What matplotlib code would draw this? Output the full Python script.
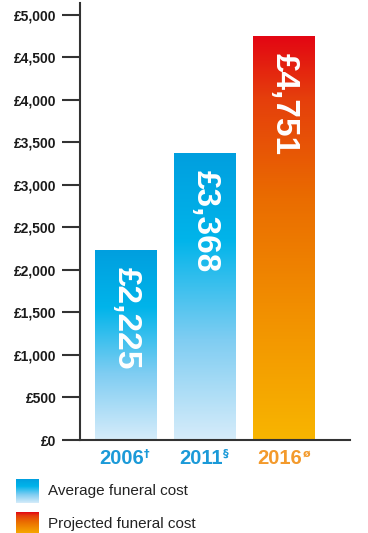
import numpy as np
import matplotlib.pyplot as plt
from matplotlib.colors import LinearSegmentedColormap
from matplotlib.transforms import blended_transform_factory

# funeral cost data
years = ['2006', '2011', '2016']
year_marks = ['†', '§', 'ø']
costs = [2225, 3368, 4751]
cost_labels = ['£2,225', '£3,368', '£4,751']
projected = [False, False, True]
yticks = [0, 500, 1000, 1500, 2000, 2500, 3000, 3500, 4000, 4500, 5000]
legend_labels = ['Average funeral cost', 'Projected funeral cost']

# gradients run bottom -> top
blue_cmap = LinearSegmentedColormap.from_list(
    'avg', [(0.0, '#d6ecfa'), (0.35, '#7fcdf2'), (0.7, '#00b4ea'), (1.0, '#009fdf')])
red_cmap = LinearSegmentedColormap.from_list(
    'proj', [(0.0, '#f8b500'), (0.3, '#f29200'), (0.6, '#ea6c00'), (0.85, '#e53e0c'), (1.0, '#e30613')])

blue_txt = '#1b9ad8'
orange_txt = '#f39a2c'

fig = plt.figure(figsize=(3.68, 5.33), dpi=100)
ax = fig.add_axes([80 / 368, 93 / 533, 270 / 368, 437 / 533])

grad = np.linspace(0, 1, 256).reshape(-1, 1)
width = 0.78
for i, (c, proj) in enumerate(zip(costs, projected)):
    cmap = red_cmap if proj else blue_cmap
    ax.imshow(grad, cmap=cmap, origin='lower', aspect='auto',
              extent=(i - width / 2, i + width / 2, 0, c), zorder=2)
    ax.annotate(cost_labels[i], xy=(i, c), xytext=(0, -12), textcoords='offset points',
                rotation=-90, ha='center', va='top', color='white',
                fontsize=24, fontweight='bold', family='Liberation Sans',
                zorder=3)

ax.set_xlim(-0.58, 2.84)
ax.set_ylim(0, 5140)

ax.set_yticks(yticks)
ax.set_yticklabels(['£{:,}'.format(v) for v in yticks], fontsize=10, fontweight='bold',
                   family='Liberation Sans', color='#1a1a1a')
ax.tick_params(axis='y', length=13, width=1.5, color='#333333', pad=4)
ax.set_xticks([])

for side in ['top', 'right']:
    ax.spines[side].set_visible(False)
for side in ['left', 'bottom']:
    ax.spines[side].set_color('#333333')
    ax.spines[side].set_linewidth(1.5)

# year labels with superscript note marks
trans = blended_transform_factory(ax.transData, ax.transAxes)
for i, (yr, mark, proj) in enumerate(zip(years, year_marks, projected)):
    col = orange_txt if proj else blue_txt
    t = ax.text(i - 0.05, -0.02, yr, transform=trans, ha='center', va='top',
                fontsize=14.5, fontweight='bold', family='Liberation Sans', color=col)
    ax.annotate(mark, xy=(1, 1), xycoords=t, xytext=(0, 0), textcoords='offset points',
                ha='left', va='top', fontsize=8, fontweight='bold', color=col)

# legend swatches
for k, (cmap, lab) in enumerate(zip([blue_cmap, red_cmap], legend_labels)):
    y_bot = 503 + k * 33
    sw = fig.add_axes([16 / 368, (533 - y_bot) / 533, 23 / 368, 24 / 533])
    sw.imshow(grad, cmap=cmap, origin='lower', aspect='auto')
    sw.axis('off')
    fig.text(48 / 368, (533 - y_bot + 12) / 533, lab, ha='left', va='center',
             fontsize=11, family='Liberation Sans', color='#222222')

fig.savefig('out.png', dpi=100)
